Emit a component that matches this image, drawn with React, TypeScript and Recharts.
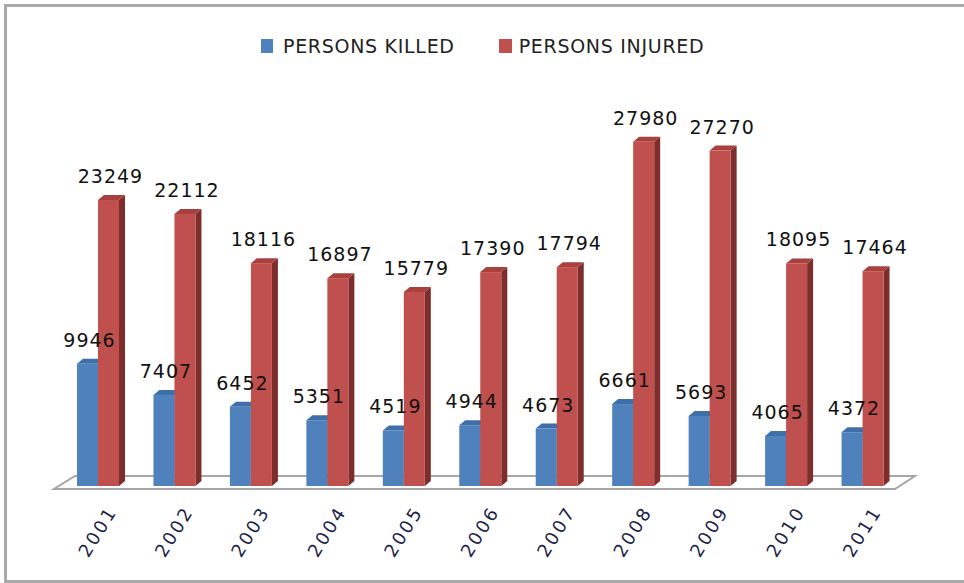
import React from "react"
import { BarChart, Bar, XAxis, YAxis, LabelList } from "recharts"

const years = ["2001", "2002", "2003", "2004", "2005", "2006", "2007", "2008", "2009", "2010", "2011"]
const killed = [9946, 7407, 6452, 5351, 4519, 4944, 4673, 6661, 5693, 4065, 4372]
const injured = [23249, 22112, 18116, 16897, 15779, 17390, 17794, 27980, 27270, 18095, 17464]

const data = years.map((year, i) => ({ year, killed: killed[i], injured: injured[i] }))

const W = 964
const H = 583
const AXIS_H = 30
const M = { top: 117, right: 63, bottom: 97 - AXIS_H, left: 60 }
const FONT = "'DejaVu Sans', Verdana, sans-serif"
const DEPTH = 6

// front face + top + right side, a bit like the old excel 3d column
const make3D = (front: string, top: string, side: string) => (props: any) => {
  const { x, y, width, height } = props
  if (height <= 0) return null
  const d = DEPTH
  const up = 5
  return (
    <g>
      <polygon points={`${x + width},${y} ${x + width + d},${y - up} ${x + width + d},${y + height - up} ${x + width},${y + height}`} fill={side} />
      <polygon points={`${x},${y} ${x + d},${y - up} ${x + width + d},${y - up} ${x + width},${y}`} fill={top} />
      <rect x={x} y={y} width={width} height={height} fill={front} />
    </g>
  )
}

const BarLabel = (props: any) => {
  const { x, y, width, value } = props
  return (
    <text x={x + width / 2 + 2} y={y - 17} textAnchor="middle" fontFamily={FONT} fontSize={19} letterSpacing={1} fill="#111">
      {value}
    </text>
  )
}

const YearTick = (props: any) => {
  const { x, y, payload } = props
  const ax = x + 8
  const ay = y + 10
  return (
    <text x={ax} y={ay} transform={`rotate(-58 ${ax} ${ay})`} textAnchor="end" dominantBaseline="hanging" fontFamily={FONT} fontSize={18} letterSpacing={2.5} fill="#1c1f4a">
      {payload.value}
    </text>
  )
}

const LegendBox = () => (
  <div style={{ position: "absolute", top: 35, left: 261, display: "flex", fontFamily: FONT, fontSize: 19, letterSpacing: 0.7, color: "#222" }}>
    <div style={{ display: "flex", alignItems: "center" }}>
      <span style={{ width: 12, height: 14, background: "#4F81BD", marginRight: 10, display: "inline-block" }} />
      PERSONS KILLED
    </div>
    <div style={{ display: "flex", alignItems: "center", marginLeft: 44 }}>
      <span style={{ width: 13, height: 14, background: "#C0504D", marginRight: 7, display: "inline-block" }} />
      PERSONS INJURED
    </div>
  </div>
)

export default function App() {
  const baseY = H - 97
  return (
    <div style={{ position: "relative", width: W, height: H, overflow: "hidden", background: "#fff" }}>
      <style>{`body{margin:0}`}</style>
      {/* frame, right edge runs off the picture */}
      <div style={{ position: "absolute", left: 4, top: 4, width: 990, height: H - 10, border: "3px solid #a9a9a9" }} />
      {/* floor plate */}
      <svg width={W} height={H} style={{ position: "absolute", left: 0, top: 0 }}>
        <polygon
          points={`${M.left - 6},${baseY + 3} ${W - M.right - 6},${baseY + 3} ${W - M.right + 14},${baseY - 10} ${M.left + 15},${baseY - 10}`}
          fill="#fff"
          stroke="#a6a6a6"
          strokeWidth={2}
        />
      </svg>
      <LegendBox />
      <div style={{ position: "absolute", left: 0, top: 0 }}>
        <BarChart width={W} height={H} data={data} margin={M} barCategoryGap={17} barGap={0}>
          <XAxis dataKey="year" height={AXIS_H} axisLine={false} tickLine={false} interval={0} tick={<YearTick />} />
          <YAxis hide domain={[0, 30000]} />
          <Bar dataKey="killed" name="PERSONS KILLED" fill="#4F81BD" shape={make3D("#4F81BD", "#3f6fa8", "#2f5582")} isAnimationActive={false}>
            <LabelList dataKey="killed" content={<BarLabel />} />
          </Bar>
          <Bar dataKey="injured" name="PERSONS INJURED" fill="#C0504D" shape={make3D("#C0504D", "#a8403d", "#7d2d2b")} isAnimationActive={false}>
            <LabelList dataKey="injured" content={<BarLabel />} />
          </Bar>
        </BarChart>
      </div>
    </div>
  )
}
